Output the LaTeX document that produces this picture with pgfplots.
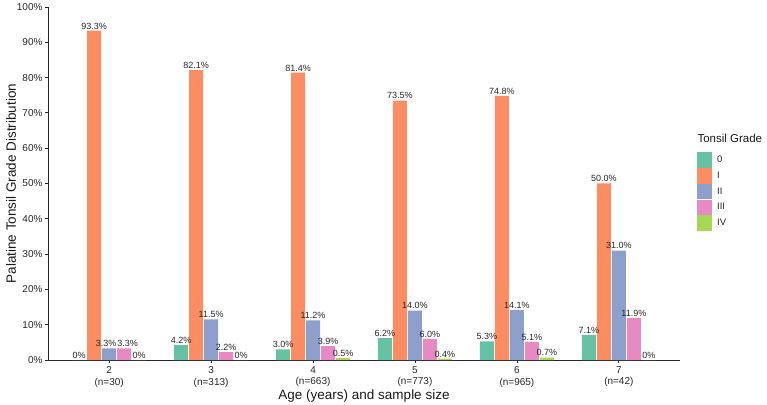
\documentclass[border=0pt]{standalone}
\usepackage{fontspec}
\setmainfont{Liberation Sans}
\usepackage{pgfplots}
\pgfplotsset{compat=1.18}
\usepackage{pgfplotstable}

% Set2 palette
\definecolor{g0}{HTML}{66C2A5}
\definecolor{g1}{HTML}{FC8D62}
\definecolor{g2}{HTML}{8DA0CB}
\definecolor{g3}{HTML}{E78AC3}
\definecolor{g4}{HTML}{A6D854}

% Share of each tonsil grade (%) per age group; lab is the printed label,
% dx nudges a label sideways where two neighbouring labels would collide
\pgfplotstableread{
x y lab dx
2 0 0 0
3 4.2 4.2 0
4 3.0 3.0 0
5 6.2 6.2 0
6 5.3 5.3 0
7 7.1 7.1 0
}\gradeO
\pgfplotstableread{
x y lab dx
2 93.3 93.3 0
3 82.1 82.1 0
4 81.4 81.4 0
5 73.5 73.5 0
6 74.8 74.8 0
7 50.0 50.0 0
}\gradeI
\pgfplotstableread{
x y lab dx
2 3.3 3.3 -3
3 11.5 11.5 0
4 11.2 11.2 0
5 14.0 14.0 0
6 14.1 14.1 0
7 31.0 31.0 0
}\gradeII
\pgfplotstableread{
x y lab dx
2 3.3 3.3 3.5
3 2.2 2.2 0
4 3.9 3.9 0
5 6.0 6.0 0
6 5.1 5.1 0
7 11.9 11.9 0
}\gradeIII
\pgfplotstableread{
x y lab dx
2 0 0 0
3 0 0 0
4 0.5 0.5 0
5 0.4 0.4 0
6 0.7 0.7 0
7 0 0 0
}\gradeIV

\begin{document}
\begin{tikzpicture}
\useasboundingbox (-48pt,-44pt) rectangle (719pt,360pt);
\begin{axis}[
  at={(0,0)}, anchor=south west,
  scale only axis, width=632pt, height=353pt,
  xmin=1.4, xmax=7.6, ymin=0, ymax=100,
  ybar=1pt, bar width=14pt,
  axis x line*=bottom, axis y line*=left,
  axis line style={black!85, line width=0.8pt},
  tick style={black!85, line width=0.8pt},
  tick align=outside, major tick length=3pt,
  xtick={2,3,4,5,6,7},
  xticklabels={2\\(n=30),3\\(n=313),4\\(n=663),5\\(n=773),6\\(n=965),7\\(n=42)},
  xticklabel style={align=center, font=\fontsize{10}{11.5}\selectfont, text=black!85},
  ytick={0,10,...,100},
  yticklabel={\pgfmathprintnumber{\tick}\%},
  yticklabel style={font=\fontsize{10}{11}\selectfont, text=black!85, xshift=1pt},
  /pgf/number format/assume math mode=true,
  xlabel={Age (years) and sample size},
  ylabel={Palatine Tonsil Grade Distribution},
  label style={font=\fontsize{13.5}{15}\selectfont, text=black!90},
  xlabel style={yshift=4pt},
  ylabel style={yshift=-6pt},
  visualization depends on={\thisrow{dx} \as \labdx},
  nodes near coords={\pgfplotspointmeta\%},
  point meta=explicit symbolic,
  nodes near coords style={font=\fontsize{9}{10}\selectfont, text=black!85,
    inner sep=1.3pt, xshift=\labdx pt},
  legend style={at={(1.022,0.595)}, anchor=north west, draw=none, fill=none,
    font=\fontsize{9.5}{10}\selectfont, row sep=0.2pt,
    nodes={inner ysep=2.5pt, inner xsep=5pt, text=black!85}},
  legend cell align=left,
  legend image code/.code={\fill[#1,draw=none] (0pt,-7.8pt) rectangle (15pt,7.8pt);},
]
\addplot[fill=g0, draw=none] table[x=x, y=y, meta=lab]{\gradeO};
\addplot[fill=g1, draw=none] table[x=x, y=y, meta=lab]{\gradeI};
\addplot[fill=g2, draw=none] table[x=x, y=y, meta=lab]{\gradeII};
\addplot[fill=g3, draw=none] table[x=x, y=y, meta=lab]{\gradeIII};
\addplot[fill=g4, draw=none] table[x=x, y=y, meta=lab]{\gradeIV};
\legend{0,I,II,III,IV}
\end{axis}
\node[anchor=west, font=\fontsize{11.5}{13}\selectfont, text=black!90] at (646pt,222pt) {Tonsil Grade};
\end{tikzpicture}
\end{document}
